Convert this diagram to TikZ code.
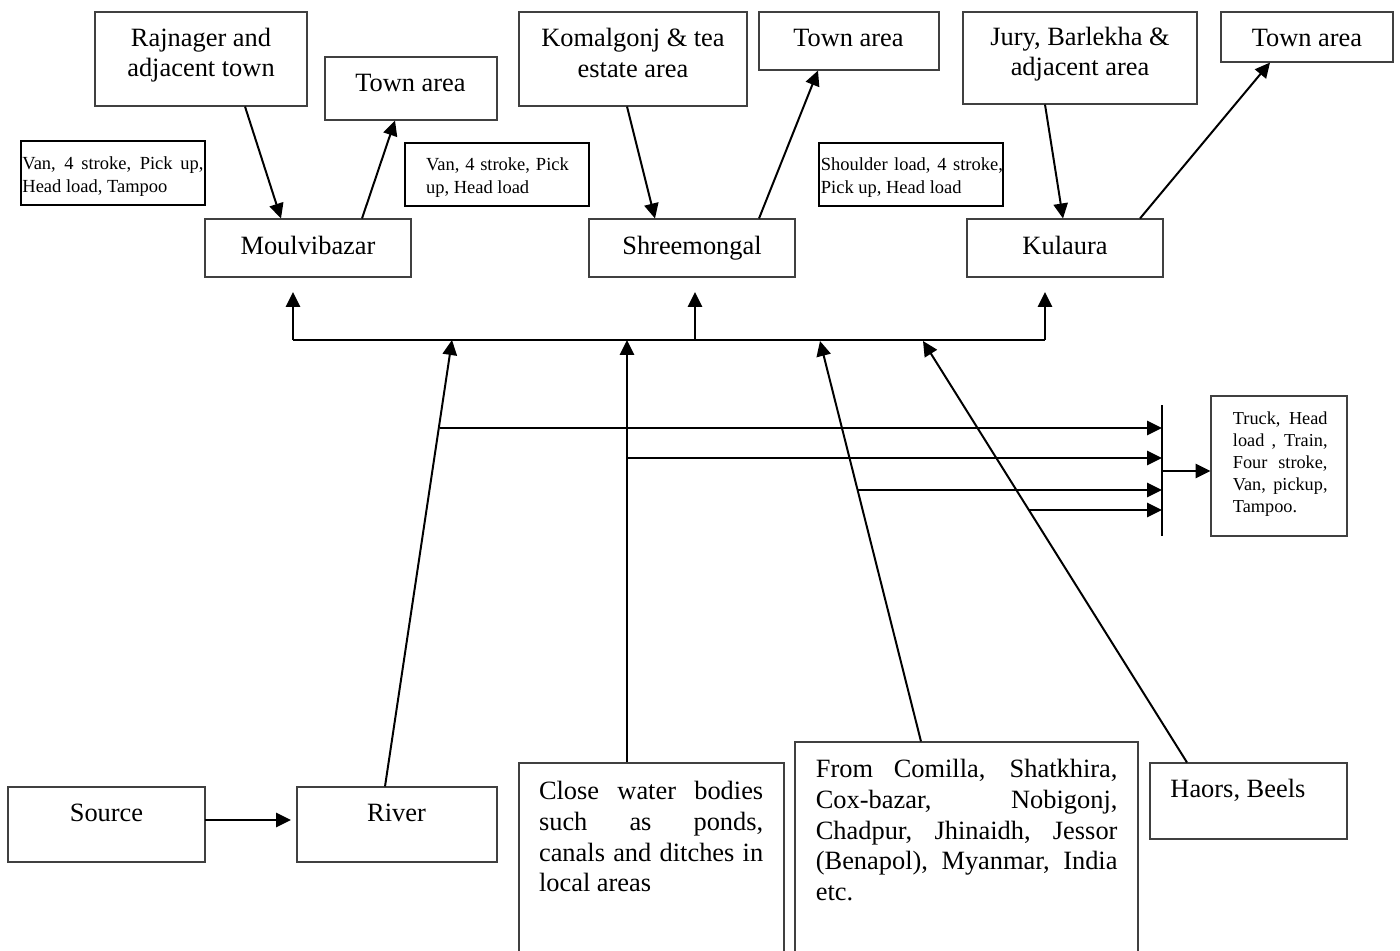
\documentclass[tikz,border=0pt]{standalone}
\usepackage{fontspec}
\setmainfont{Liberation Serif}
\usetikzlibrary{arrows.meta}
\newcommand{\pxu}{0.4545pt}
\newcommand{\jl}[2]{\makebox[#1][s]{#2}}
\begin{document}
\begin{tikzpicture}[x=0.4545pt,y=-0.4545pt,
  sz/.style 2 args={minimum width=#1*\pxu, minimum height=#2*\pxu},
  box/.style={draw=black!75, line width=0.5pt, inner sep=0pt},
  lab/.style={draw=black, line width=1pt, inner sep=0pt},
  conn/.style={line width=0.9pt},
  arr/.style={line width=0.9pt, -{Triangle[length=6.8pt,width=6.5pt]}},
  big/.style={font=\fontsize{12}{13.8}\selectfont, align=center, inner sep=0pt},
  bigl/.style={font=\fontsize{12}{13.95}\selectfont, align=left, inner sep=0pt, anchor=north west},
  sm/.style={font=\fontsize{8.4}{10.2}\selectfont, align=left, inner sep=0pt, anchor=north west},
  tiny/.style={font=\fontsize{8.3}{10}\selectfont, align=left, inner sep=0pt, anchor=north west},
]
\path[fill=white, use as bounding box] (0,0) rectangle (1400,950);

% ---------- top boxes ----------
\node[box, sz={212}{94}] (raj) at (201,59) {};
\node[big] (rajt) at (201,55) {Rajnager and\\adjacent town};
\node[box, sz={172}{63}] (town1) at (411,88.5) {};
\node[big] (town1t) at (410.5,83) {Town area};
\node[lab, sz={184}{64}] (lab1) at (113,173) {};
\node[sm] (lab1t) at (22,156.5) {\jl{82.3pt}{Van, 4 stroke, Pick up,}\\Head load, Tampoo};
\node[lab, sz={184}{63}] (lab2) at (497,174.5) {};
\node[sm] (lab2t) at (425.6,157.5) {\jl{64.9pt}{Van, 4 stroke, Pick}\\up, Head load};
\node[box, sz={206}{58}] (moul) at (308,248) {};
\node[big] (moult) at (308,245) {Moulvibazar};

\node[box, sz={228}{94}] (kom) at (633,59) {};
\node[big] (komt) at (633,53) {Komalgonj \& tea\\estate area};
\node[box, sz={180}{58}] (town2) at (849,41) {};
\node[big] (town2t) at (848.5,38) {Town area};
\node[lab, sz={184}{63}] (lab3) at (911,174.5) {};
\node[sm] (lab3t) at (820.5,157.5) {\jl{82.7pt}{Shoulder load, 4 stroke,}\\Pick up, Head load};
\node[box, sz={206}{58}] (shree) at (692,248) {};
\node[big] (shreet) at (692,248) {Shreemongal};

\node[box, sz={234}{92}] (jury) at (1080,58) {};
\node[big] (juryt) at (1080,54) {Jury, Barlekha \&\\adjacent area};
\node[box, sz={172}{50}] (town3) at (1307,37) {};
\node[big] (town3t) at (1307,38) {Town area};
\node[box, sz={196}{58}] (kul) at (1065,248) {};
\node[big] (kult) at (1065,245) {Kulaura};

% ---------- right box ----------
\node[box, sz={136}{140}] (final) at (1279,466) {};
\node[tiny] (finalt) at (1232.5,411.5) {\jl{43pt}{Truck, Head}\\\jl{43pt}{load , Train,}\\\jl{43pt}{Four stroke,}\\\jl{43pt}{Van, pickup,}\\Tampoo.};

% ---------- bottom boxes ----------
\node[box, sz={197}{75}] (source) at (106.5,824.5) {};
\node[big] (sourcet) at (106.5,813) {Source};
\node[box, sz={200}{75}] (river) at (397,824.5) {};
\node[big] (rivert) at (396.5,813) {River};
\node[box, sz={265}{197}] (close) at (651.5,861.5) {};
\node[bigl] (closet) at (538.6,781) {\jl{101.9pt}{Close water bodies}\\\jl{101.9pt}{such as ponds,}\\\jl{101.9pt}{canals and ditches in}\\local areas};
\node[box, sz={343}{218}] (comilla) at (966.5,851) {};
\node[bigl] (comillat) at (815.4,759) {\jl{137.1pt}{From Comilla, Shatkhira,}\\\jl{137.1pt}{Cox-bazar, Nobigonj,}\\\jl{137.1pt}{Chadpur, Jhinaidh, Jessor}\\\jl{137.1pt}{(Benapol), Myanmar, India}\\etc.};
\node[box, sz={197}{76}] (haors) at (1248.5,801) {};
\node[big, anchor=west] (haorst) at (1170,790) {Haors, Beels};

% ---------- top connectors ----------
\draw[arr] (raj.south -| 245,0) -- (moul.north -| 281,0);
\draw[arr] (moul.north -| 362,0) -- (town1.south -| 395,0);
\draw[arr] (kom.south -| 627,0) -- (shree.north -| 655,0);
\draw[arr] (shree.north -| 759,0) -- (town2.south -| 818,0);
\draw[arr] (jury.south -| 1045,0) -- (kul.north -| 1063,0);
\draw[arr] (kul.north -| 1140,0) -- (town3.south -| 1270,0);

% ---------- bus ----------
\coordinate (busL) at (293,340);
\coordinate (busM) at (695,340);
\coordinate (busR) at (1045,340);
\coordinate (mIn) at (293,292);
\coordinate (sIn) at (695,292);
\coordinate (kIn) at (1045,292);
\draw[conn] (busL) -- (busR);
\draw[arr] (busL) -- (mIn);
\draw[arr] (busM) -- (sIn);
\draw[arr] (busR) -- (kIn);

% ---------- inputs ----------
\coordinate (rTip) at (452,340);
\coordinate (cTip) at (627,340);
\coordinate (fTip) at (820,341);
\coordinate (hTip) at (923,341);
\draw[arr] (river.north -| 385,0) -- (rTip);
\draw[arr] (close.north -| 627,0) -- (cTip);
\draw[arr] (comilla.north -| 921,0) -- (fTip);
\draw[arr] (haors.north -| 1187,0) -- (hTip);

% ---------- to the bar ----------
\coordinate (barT) at (1162,405);
\coordinate (barB) at (1162,536);
\draw[conn] (barT) -- (barB);
\coordinate (h1s) at (440,428);
\coordinate (h2s) at (627,458);
\coordinate (h3s) at (858,490);
\coordinate (h4s) at (1029,510);
\draw[arr] (h1s) -- (h1s -| barT);
\draw[arr] (h2s) -- (h2s -| barT);
\draw[arr] (h3s) -- (h3s -| barT);
\draw[arr] (h4s) -- (h4s -| barT);
\coordinate (outS) at (1162,471);
\draw[arr] (outS) -- (outS -| final.west);

% ---------- source to river ----------
\coordinate (srcA) at (205,820);
\coordinate (rivA) at (291,820);
\draw[arr] (srcA) -- (rivA);
\end{tikzpicture}
\end{document}
